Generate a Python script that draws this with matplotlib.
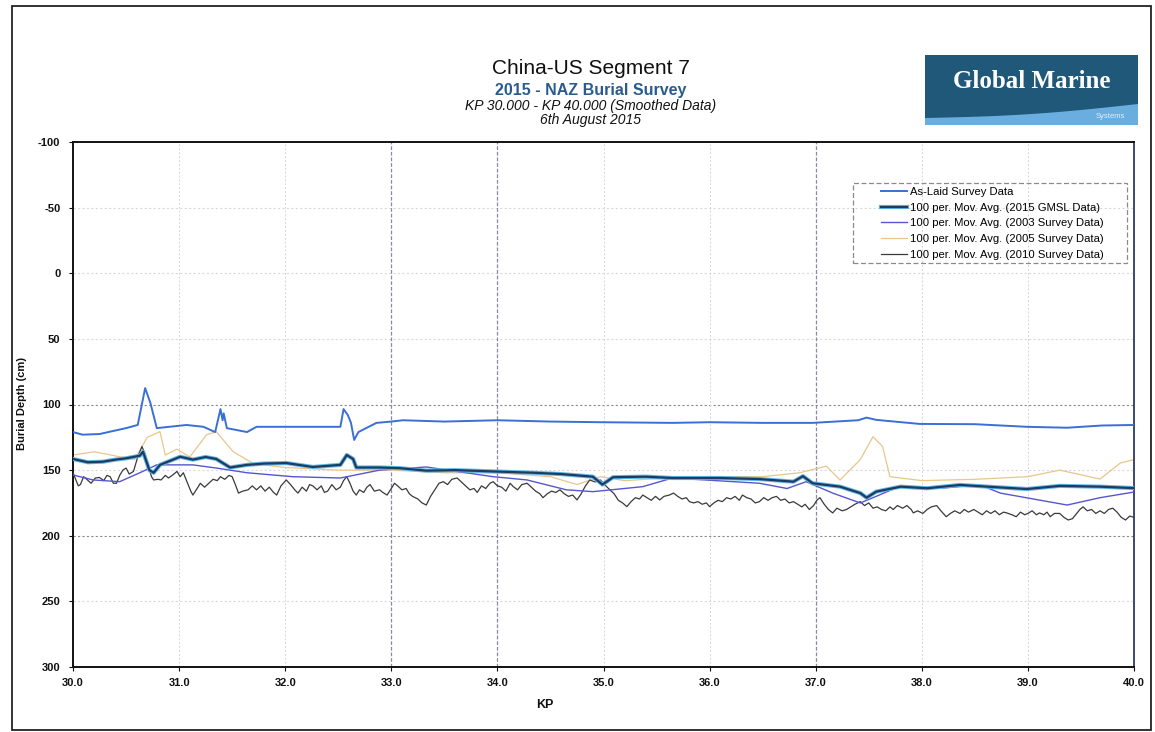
import matplotlib
matplotlib.use("Agg")
import matplotlib.pyplot as plt
import matplotlib.patheffects as pe
from matplotlib.patches import Rectangle, Polygon
import numpy as np

plt.rcParams['font.family'] = ['Liberation Sans', 'DejaVu Sans']
plt.rcParams['axes.unicode_minus'] = False

# ---- survey data (KP in km, burial depth in cm) ----
aslaid_kp = [30.0, 30.09, 30.25, 30.5, 30.61, 30.68, 30.73, 30.79, 31.07, 31.23, 31.34,
             31.39, 31.41, 31.42, 31.45, 31.64, 31.73, 32.07, 32.52, 32.55, 32.59, 32.62,
             32.65, 32.69, 32.86, 33.0, 33.11, 33.5, 34.0, 34.5, 34.97, 35.65, 36.0, 36.5,
             36.97, 37.4, 37.48, 37.57, 37.98, 38.5, 38.99, 39.37, 39.7, 40.0]
aslaid_depth = [121, 123, 122.5, 118, 115.6, 87.5, 99, 118, 115.6, 117, 121,
                103.5, 112, 106.7, 118, 121, 117, 117, 117, 103.5, 108, 114,
                127, 121, 114, 113, 112, 113, 112, 113, 113.5, 114, 113.5, 114,
                114, 112, 110, 111.7, 114.8, 115, 117, 117.7, 116, 115.6]

gmsl2015_kp = [30.0, 30.14, 30.28, 30.4, 30.5, 30.63, 30.66, 30.72, 30.76, 30.82, 31.01,
               31.13, 31.25, 31.35, 31.48, 31.64, 31.8, 32.01, 32.26, 32.52, 32.58, 32.64,
               32.67, 32.89, 33.08, 33.33, 33.6, 33.96, 34.34, 34.6, 34.9, 34.99, 35.09,
               35.4, 35.65, 36.1, 36.47, 36.79, 36.88, 36.97, 37.23, 37.42, 37.48, 37.57,
               37.8, 38.05, 38.36, 38.7, 38.99, 39.3, 39.68, 40.0]
gmsl2015_depth = [141.5, 144, 143.6, 142, 141, 139, 136, 150, 152, 146, 139.8,
                  142, 140, 141.5, 148, 146, 145, 144.6, 147.6, 146, 138.5, 141.5,
                  148, 148, 148.5, 150.4, 150, 151, 152, 153, 155, 161, 155.4,
                  155, 156, 156, 156.8, 158.8, 154.6, 160, 162.6, 167.5, 171, 166.4,
                  162.6, 163.8, 161.3, 163, 164.4, 162, 162.6, 163.7]

survey2003_kp = [30.0, 30.19, 30.44, 30.63, 30.79, 31.13, 31.35, 31.64, 32.07, 32.52,
                 32.89, 33.33, 33.96, 34.28, 34.65, 34.9, 35.37, 35.65, 36.47, 36.73,
                 36.91, 37.16, 37.42, 37.57, 37.8, 38.17, 38.55, 38.74, 39.37, 39.68, 40.0]
survey2003_depth = [153.7, 157.5, 158.8, 152, 146, 146, 148.4, 152, 155, 156,
                    150, 147.6, 155, 157.5, 165, 166.4, 162.6, 156, 160, 164,
                    158.8, 167.5, 175, 170, 162, 163.8, 161.3, 167.5, 176.6, 171, 166.7]

survey2005_kp = [30.0, 30.2, 30.45, 30.58, 30.7, 30.82, 30.87, 30.98, 31.1, 31.26, 31.35,
                 31.51, 31.7, 32.0, 32.5, 33.0, 33.5, 34.0, 34.5, 34.75, 34.97, 35.2,
                 35.6, 36.0, 36.5, 36.85, 37.1, 37.23, 37.42, 37.54, 37.63, 37.7, 38.0,
                 38.5, 39.0, 39.3, 39.68, 39.87, 40.0]
survey2005_depth = [138.5, 136, 140, 142, 125, 120.7, 138.5, 134, 140, 123, 120.7,
                    136, 145, 148, 150, 150, 152, 152, 155, 161, 155, 158,
                    156, 155, 155, 152, 147, 157.5, 142, 124.5, 132, 155, 158,
                    157, 155, 150, 156.8, 144.6, 142]

survey2010_kp = [
    30.00, 30.03, 30.05, 30.07, 30.10, 30.13, 30.17, 30.21, 30.25, 30.29, 30.32, 30.35,
    30.38, 30.41, 30.44, 30.47, 30.50, 30.53, 30.57, 30.61, 30.65, 30.68, 30.71, 30.74,
    30.76, 30.80, 30.83, 30.87, 30.90, 30.94, 30.98, 31.01, 31.04, 31.08, 31.11, 31.13,
    31.17, 31.20, 31.24, 31.28, 31.32, 31.36, 31.39, 31.43, 31.47, 31.50, 31.53, 31.56,
    31.60, 31.65, 31.69, 31.73, 31.77, 31.81, 31.85, 31.89, 31.92, 31.96, 32.01, 32.05,
    32.09, 32.12, 32.16, 32.20, 32.23, 32.26, 32.30, 32.34, 32.37, 32.40, 32.44, 32.48,
    32.52, 32.55, 32.58, 32.61, 32.64, 32.67, 32.70, 32.74, 32.77, 32.80, 32.84, 32.89,
    32.92, 32.96, 33.00, 33.03, 33.06, 33.10, 33.14, 33.17, 33.20, 33.25, 33.29, 33.33,
    33.37, 33.41, 33.45, 33.49, 33.53, 33.57, 33.62, 33.66, 33.70, 33.74, 33.78, 33.81,
    33.85, 33.89, 33.93, 33.96, 34.00, 34.04, 34.08, 34.12, 34.15, 34.19, 34.23, 34.28,
    34.32, 34.36, 34.40, 34.43, 34.47, 34.51, 34.55, 34.59, 34.63, 34.67, 34.71, 34.75,
    34.79, 34.83, 34.87, 34.92, 34.97, 35.01, 35.06, 35.10, 35.14, 35.18, 35.22, 35.26,
    35.30, 35.34, 35.37, 35.41, 35.45, 35.49, 35.53, 35.57, 35.62, 35.66, 35.70, 35.74,
    35.78, 35.81, 35.85, 35.89, 35.93, 35.97, 36.00, 36.04, 36.08, 36.12, 36.16, 36.20,
    36.24, 36.28, 36.31, 36.35, 36.39, 36.43, 36.47, 36.51, 36.55, 36.59, 36.63, 36.67,
    36.71, 36.75, 36.79, 36.83, 36.87, 36.90, 36.94, 36.98, 37.01, 37.04, 37.08, 37.12,
    37.16, 37.20, 37.25, 37.29, 37.33, 37.37, 37.42, 37.46, 37.50, 37.54, 37.58, 37.62,
    37.66, 37.70, 37.73, 37.77, 37.82, 37.86, 37.90, 37.92, 37.96, 38.01, 38.05, 38.09,
    38.14, 38.18, 38.23, 38.27, 38.31, 38.36, 38.40, 38.44, 38.49, 38.53, 38.57, 38.61,
    38.65, 38.69, 38.73, 38.77, 38.80, 38.85, 38.89, 38.93, 38.97, 39.00, 39.04, 39.08,
    39.11, 39.15, 39.18, 39.21, 39.25, 39.30, 39.34, 39.38, 39.42, 39.46, 39.49, 39.52,
    39.56, 39.60, 39.64, 39.68, 39.72, 39.76, 39.80, 39.84, 39.88, 39.92, 39.96, 40.00]
survey2010_depth = [
    152, 158, 162, 161, 155, 157, 160, 156, 155.6, 158, 154, 155,
    160, 160, 154, 150, 148.4, 153, 151, 140, 132, 138, 147, 155,
    157.5, 157, 157.5, 154, 156, 153.7, 151, 155, 152, 160, 166, 169,
    164, 160, 163, 160, 157, 158, 155, 157, 154, 155, 161, 167.5,
    166, 165, 162, 165, 162, 166, 163, 167, 169, 162, 157.5, 161,
    165, 167.5, 163, 166, 161, 162, 165, 162, 167, 166, 161, 165,
    163, 158, 155, 160, 166, 169, 165, 167, 163, 161, 166, 165,
    167, 169, 164, 160, 162, 165, 164, 168, 170, 172, 175, 176.6,
    170, 165, 160, 158.8, 161, 157, 156, 159, 162, 165, 164, 167,
    162, 164, 160, 158.8, 162, 163, 166, 160, 162.6, 165, 161, 160,
    163, 166, 168, 171, 168, 166, 167, 165, 168, 170, 169, 172.7,
    168, 162, 157.5, 159, 157.5, 161, 165, 168, 173, 175, 177.8, 174,
    171, 172, 169, 171, 173, 170, 172.7, 170, 169, 167.5, 170, 172,
    171, 174, 175, 174, 176, 175, 177.8, 175, 173, 174, 171, 172,
    170, 173, 169, 171, 172, 175, 174, 171, 173, 171, 170, 173,
    172, 175, 174, 176, 178, 176, 180, 177, 173, 171, 176, 180,
    182.6, 179, 181, 180, 178, 176, 174, 177, 175, 179, 178, 180,
    181, 178, 180, 177, 179, 177, 180, 182.6, 181, 183, 180, 178,
    177, 181, 185.5, 183, 181, 183, 180, 182, 180, 182, 184, 181,
    183, 181, 184, 182, 182.6, 184, 185.5, 182, 184, 183, 181, 184,
    182.6, 184, 182, 185.5, 183, 183, 186, 188, 187, 183, 180, 178,
    181, 180, 183, 181, 183, 180, 179, 182, 186, 188, 185, 186]

x_ticks = [30.0, 31.0, 32.0, 33.0, 34.0, 35.0, 36.0, 37.0, 38.0, 39.0, 40.0]
y_ticks = [-100, -50, 0, 50, 100, 150, 200, 250, 300]

W, H = 1155, 732
fig = plt.figure(figsize=(W / 100, H / 100), dpi=100)


def fx(px):
    return px / W


def fy(py):
    return 1 - py / H


# outer page frame
fig.patches.append(Rectangle((fx(12), fy(730)), fx(1151) - fx(12), fy(6) - fy(730),
                             transform=fig.transFigure, fill=False,
                             edgecolor='#222222', linewidth=1.3))

ax = fig.add_axes([fx(73), fy(667), fx(1134) - fx(73), fy(142) - fy(667)])
ax.set_xlim(30, 40)
ax.set_ylim(300, -100)

# grid lines
for yv in y_ticks[1:-1]:
    strong = yv in (100, 200)
    ax.axhline(yv, color='#8a8a8a' if strong else '#dadada',
               linestyle=(0, (2, 2)), linewidth=0.8, zorder=1)
for xv in x_ticks[1:-1]:
    strong = xv in (33.0, 34.0, 37.0)
    ax.axvline(xv, color='#8a8aa0' if strong else '#d4d4dc',
               linestyle=(0, (3, 1.5)) if strong else (0, (2, 2)),
               linewidth=0.9 if strong else 0.7, zorder=1)

ax.plot(survey2005_kp, survey2005_depth, color='#e8c68c', linewidth=0.9, zorder=2,
        label='100 per. Mov. Avg. (2005 Survey Data)')
ax.plot(survey2010_kp, survey2010_depth, color='#3a3a3a', linewidth=0.9, zorder=3,
        label='100 per. Mov. Avg. (2010 Survey Data)')
ax.plot(survey2003_kp, survey2003_depth, color='#5656d0', linewidth=1.0, zorder=4,
        label='100 per. Mov. Avg. (2003 Survey Data)')
ax.plot(gmsl2015_kp, gmsl2015_depth, color='#1d3c60', linewidth=1.6, zorder=5,
        path_effects=[pe.Stroke(linewidth=3.0, foreground='#62b8e8'), pe.Normal()],
        label='100 per. Mov. Avg. (2015 GMSL Data)')
ax.plot(aslaid_kp, aslaid_depth, color='#3a6fd6', linewidth=1.4, zorder=6,
        label='As-Laid Survey Data')

ax.set_xticks(x_ticks)
ax.set_xticklabels([f'{v:.1f}' for v in x_ticks])
ax.set_yticks(y_ticks)
ax.tick_params(axis='both', labelsize=8, length=3, width=0.8, direction='out',
               colors='#111111')
for lab in ax.get_xticklabels() + ax.get_yticklabels():
    lab.set_fontweight('bold')
ax.tick_params(axis='x', pad=5)
ax.tick_params(axis='y', pad=6)
for side in ('left', 'bottom', 'top'):
    ax.spines[side].set_linewidth(1.4)
    ax.spines[side].set_color('#111111')
ax.spines['right'].set_linewidth(1.2)
ax.spines['right'].set_color('#1c2a55')

fig.text(fx(22), fy(404), 'Burial Depth (cm)', rotation=90, ha='center', va='center',
         fontsize=8, fontweight='bold', color='#111111')
fig.text(fx(545), fy(705), 'KP', ha='center', va='center', fontsize=9,
         fontweight='bold', color='#111111')

# legend, ordered as in the survey report, inside a dashed box
handles, labels = ax.get_legend_handles_labels()
order = ['As-Laid Survey Data', '100 per. Mov. Avg. (2015 GMSL Data)',
         '100 per. Mov. Avg. (2003 Survey Data)', '100 per. Mov. Avg. (2005 Survey Data)',
         '100 per. Mov. Avg. (2010 Survey Data)']
hmap = dict(zip(labels, handles))
leg = fig.legend([hmap[k] for k in order], order, loc='upper left',
                 bbox_to_anchor=(fx(881), fy(187)), fontsize=8.1, frameon=False,
                 handlelength=2.3, handletextpad=0.3, labelspacing=0.5,
                 borderpad=0, borderaxespad=0)
fig.patches.append(Rectangle((fx(853), fy(263)), fx(1127) - fx(853), fy(183) - fy(263),
                             transform=fig.transFigure, fill=False, edgecolor='#8a8a8a',
                             linestyle=(0, (4, 2)), linewidth=0.9))

# titles
cx = fx(591)
fig.text(cx, fy(68), 'China-US Segment 7', ha='center', va='center', fontsize=15,
         color='#111111')
fig.text(cx, fy(90), '2015 - NAZ Burial Survey', ha='center', va='center', fontsize=11.5,
         fontweight='bold', color='#2a5b8e')
fig.text(cx, fy(106), 'KP 30.000 - KP 40.000 (Smoothed Data)', ha='center', va='center',
         fontsize=10, style='italic', color='#111111')
fig.text(cx, fy(120), '6th August 2015', ha='center', va='center', fontsize=10,
         style='italic', color='#111111')

# company badge
fig.patches.append(Rectangle((fx(925), fy(125)), fx(1138) - fx(925), fy(55) - fy(125),
                             transform=fig.transFigure, facecolor='#1f5878',
                             edgecolor='none'))
wave_x = np.linspace(925, 1138, 60)
wave_top = 118 - 14 * (wave_x - 925) / 213 + 3 * np.sin((wave_x - 925) / 213 * np.pi)
poly = [(fx(x), fy(y)) for x, y in zip(wave_x, wave_top)] + [(fx(1138), fy(125)),
                                                             (fx(925), fy(125))]
fig.patches.append(Polygon(poly, closed=True, transform=fig.transFigure,
                           facecolor='#6aaee0', edgecolor='none'))
fig.text(fx(1032), fy(82), 'Global Marine', ha='center', va='center', fontsize=18,
         fontweight='bold', family='Liberation Serif', color='white')
fig.text(fx(1110), fy(117), 'Systems', ha='center', va='center', fontsize=5.5,
         color='#dff0fb')

fig.savefig('out.png', dpi=100)
